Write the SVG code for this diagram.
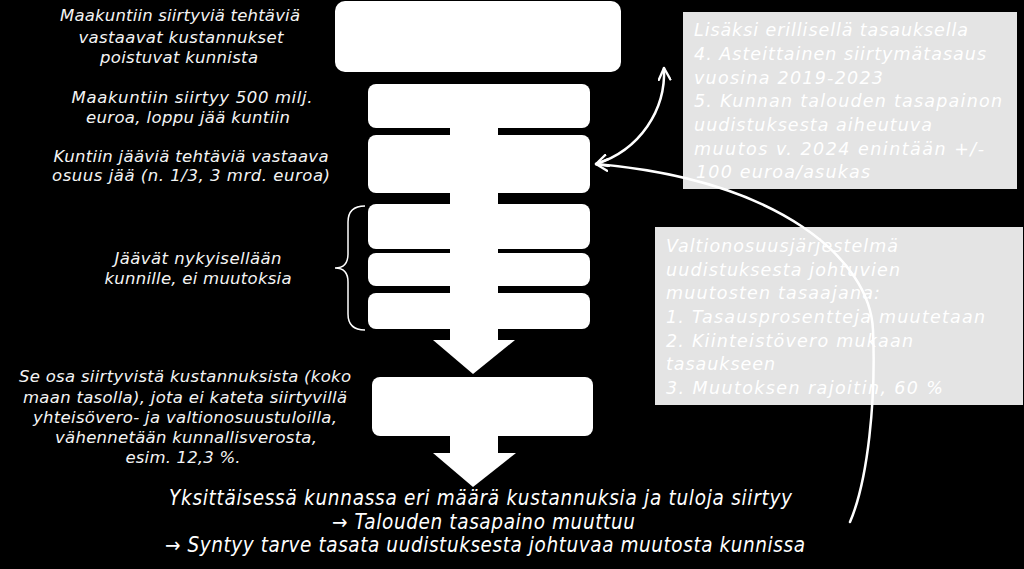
<svg xmlns="http://www.w3.org/2000/svg" width="1024" height="569" viewBox="0 0 1024 569">
<defs>
<style>
.lt{font-family:"DejaVu Sans","Verdana",sans-serif;font-style:italic;font-size:16.5px;fill:#f4f4f4;text-anchor:middle}
.gt{font-family:"DejaVu Sans","Verdana",sans-serif;font-style:italic;font-size:17.5px;fill:#ffffff}
.bt{font-family:"DejaVu Sans Condensed","DejaVu Sans",sans-serif;font-stretch:condensed;font-style:italic;font-size:20.5px;fill:#ffffff;text-anchor:middle}
.wb{fill:#ffffff}
.gb{fill:#e4e4e4}
.cn{fill:none;stroke:#ffffff;stroke-width:2.5;stroke-linecap:round}
</style>
<marker id="ah" viewBox="0 0 12 12" refX="11" refY="6" markerWidth="14" markerHeight="14" markerUnits="userSpaceOnUse" orient="auto-start-reverse">
<path d="M1,1 L11,6 L1,11" fill="none" stroke="#ffffff" stroke-width="2" stroke-linecap="round" stroke-linejoin="round"/>
</marker>
</defs>
<rect width="1024" height="569" fill="#000000"/>

<g id="flow">
<rect class="wb" x="450" y="120" width="48" height="222"/>
<polygon class="wb" points="433,340 515,340 473,374"/>
<rect class="wb" x="450" y="430" width="48" height="25"/>
<polygon class="wb" points="433,453 516,453 473,487"/>
</g>
<g id="box1"><rect class="wb" x="335" y="1" width="286" height="71" rx="10"/></g>
<g id="box2"><rect class="wb" x="368" y="84" width="222" height="44" rx="8"/></g>
<g id="box3"><rect class="wb" x="368" y="135" width="222" height="58" rx="8"/></g>
<g id="box4"><rect class="wb" x="368" y="204" width="222" height="45" rx="8"/></g>
<g id="box5"><rect class="wb" x="368" y="253" width="222" height="33" rx="8"/></g>
<g id="box6"><rect class="wb" x="368" y="293" width="222" height="36" rx="8"/></g>
<g id="box7"><rect class="wb" x="372" y="377" width="221" height="59" rx="8"/></g>

<g id="label1">
<text class="lt" x="180" y="21" textLength="240">Maakuntiin siirtyviä tehtäviä</text>
<text class="lt" x="181" y="43" textLength="205">vastaavat kustannukset</text>
<text class="lt" x="179" y="63" textLength="158">poistuvat kunnista</text>
</g>
<g id="label2">
<text class="lt" x="192" y="103" textLength="241">Maakuntiin siirtyy 500 milj.</text>
<text class="lt" x="188" y="123" textLength="204">euroa, loppu jää kuntiin</text>
</g>
<g id="label3">
<text class="lt" x="191" y="162" textLength="275">Kuntiin jääviä tehtäviä vastaava</text>
<text class="lt" x="191" y="181" textLength="278">osuus jää (n. 1/3, 3 mrd. euroa)</text>
</g>
<g id="label4">
<text class="lt" x="198" y="264" textLength="167">Jäävät nykyisellään</text>
<text class="lt" x="198" y="284" textLength="187">kunnille, ei muutoksia</text>
<path d="M365,206 Q348,206 348,222 L348,254 Q348,268 335,268 Q348,268 348,282 L348,314 Q348,330 365,330" fill="none" stroke="#ffffff" stroke-width="1.5"/>
</g>
<g id="label5">
<text class="lt" x="185" y="382" textLength="332">Se osa siirtyvistä kustannuksista (koko</text>
<text class="lt" x="185" y="403" textLength="324">maan tasolla), jota ei kateta siirtyvillä</text>
<text class="lt" x="185" y="423" textLength="304">yhteisövero- ja valtionosuustuloilla,</text>
<text class="lt" x="186" y="443" textLength="262">vähennetään kunnallisverosta,</text>
<text class="lt" x="183" y="463" textLength="115">esim. 12,3 %.</text>
</g>
<g id="result">
<text class="bt" x="480.5" y="505" textLength="623">Yksittäisessä kunnassa eri määrä kustannuksia ja tuloja siirtyy</text>
<text class="bt" x="483.5" y="529" textLength="303">→  Talouden tasapaino muuttuu</text>
<text class="bt" x="485" y="552" textLength="640">→ Syntyy tarve tasata uudistuksesta johtuvaa muutosta kunnissa</text>
</g>

<g id="note1">
<rect class="gb" x="683" y="12" width="334" height="177"/>
<text class="gt" x="694" y="36" textLength="274">Lisäksi erillisellä tasauksella</text>
<text class="gt" x="694" y="60" textLength="292">4. Asteittainen siirtymätasaus</text>
<text class="gt" x="694" y="84" textLength="189">vuosina 2019-2023</text>
<text class="gt" x="694" y="107" textLength="308">5. Kunnan talouden tasapainon</text>
<text class="gt" x="694" y="131" textLength="238">uudistuksesta aiheutuva</text>
<text class="gt" x="694" y="155" textLength="290">muutos v. 2024 enintään +/-</text>
<text class="gt" x="696" y="178" textLength="174">100 euroa/asukas</text>
</g>
<g id="note2">
<rect class="gb" x="655" y="227" width="368" height="178"/>
<text class="gt" x="666" y="252" textLength="232">Valtionosuusjärjestelmä</text>
<text class="gt" x="666" y="276" textLength="234">uudistuksesta johtuvien</text>
<text class="gt" x="666" y="299" textLength="214">muutosten tasaajana:</text>
<text class="gt" x="666" y="323" textLength="319">1. Tasausprosentteja muutetaan</text>
<text class="gt" x="666" y="347" textLength="247">2. Kiinteistövero mukaan</text>
<text class="gt" x="666" y="370" textLength="109">tasaukseen</text>
<text class="gt" x="666" y="394" textLength="277">3. Muutoksen rajoitin, 60 %</text>
</g>

<g id="connectors">
<path class="cn" d="M664,68 C666,110 640,150 596,164" marker-start="url(#ah)" marker-end="url(#ah)"/>
<path class="cn" d="M850,522 C868,480 876,400 873,330 C870,260 780,180 596,164" marker-end="url(#ah)"/>
</g>
</svg>
